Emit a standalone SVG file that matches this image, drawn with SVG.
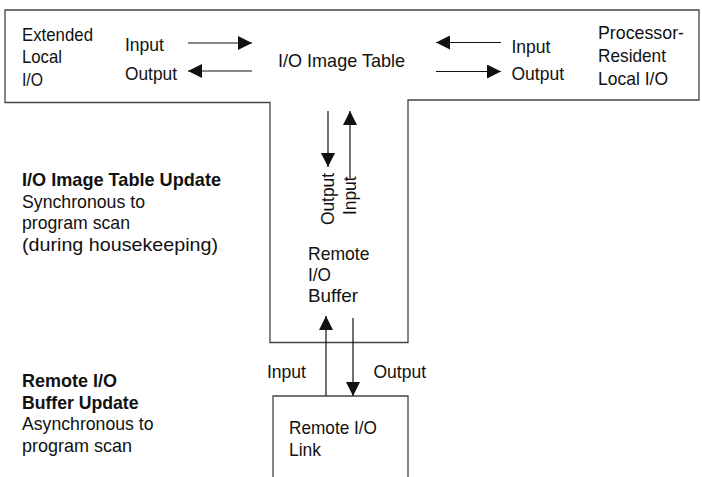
<svg xmlns="http://www.w3.org/2000/svg" width="702" height="477" viewBox="0 0 702 477">
<defs>
<style>
text{font-family:"Liberation Sans",Arial,sans-serif;font-size:19px;fill:#111}
.b{font-weight:bold}
.frame{fill:none;stroke:#444;stroke-width:1.3}
.conn{stroke:#111;stroke-width:1.2;fill:none}
</style>
<marker id="ah" viewBox="0 0 14 14" refX="14" refY="7" markerWidth="14" markerHeight="14" markerUnits="userSpaceOnUse" orient="auto">
<path d="M0,0 L14,7 L0,14 Z" fill="#111"/>
</marker>
</defs>
<g id="io-image-table">
<path class="frame" d="M5,10 H699 V100 H408 V342.5 H270 V102.5 H5 Z"/>
<text x="278" y="66.5" textLength="127" lengthAdjust="spacingAndGlyphs">I/O Image Table</text>
</g>
<g id="extended-local-io">
<text x="22" y="40.5" textLength="71" lengthAdjust="spacingAndGlyphs">Extended</text>
<text x="22" y="63" textLength="40" lengthAdjust="spacingAndGlyphs">Local</text>
<text x="22" y="85.5" textLength="21" lengthAdjust="spacingAndGlyphs">I/O</text>
</g>
<g id="processor-resident-local-io">
<text x="598" y="39" textLength="86" lengthAdjust="spacingAndGlyphs">Processor-</text>
<text x="598" y="62" textLength="68" lengthAdjust="spacingAndGlyphs">Resident</text>
<text x="598" y="85" textLength="70" lengthAdjust="spacingAndGlyphs">Local I/O</text>
</g>
<g id="remote-io-buffer">
<text x="308" y="259.5" textLength="61.5" lengthAdjust="spacingAndGlyphs">Remote</text>
<text x="308" y="281" textLength="23" lengthAdjust="spacingAndGlyphs">I/O</text>
<text x="308" y="302" textLength="50" lengthAdjust="spacingAndGlyphs">Buffer</text>
</g>
<g id="remote-io-link">
<path class="frame" d="M273,477 V396 H408 V477"/>
<text x="289" y="434" textLength="88" lengthAdjust="spacingAndGlyphs">Remote I/O</text>
<text x="289" y="456" textLength="32" lengthAdjust="spacingAndGlyphs">Link</text>
</g>
<g id="notes">
<text class="b" x="22" y="186" textLength="199" lengthAdjust="spacingAndGlyphs">I/O Image Table Update</text>
<text x="22" y="207.5" textLength="123" lengthAdjust="spacingAndGlyphs">Synchronous to</text>
<text x="22" y="229" textLength="108" lengthAdjust="spacingAndGlyphs">program scan</text>
<text x="22" y="250.5" textLength="196" lengthAdjust="spacingAndGlyphs">(during housekeeping)</text>
<text class="b" x="22" y="387" textLength="95" lengthAdjust="spacingAndGlyphs">Remote I/O</text>
<text class="b" x="22" y="408.5" textLength="116.5" lengthAdjust="spacingAndGlyphs">Buffer Update</text>
<text x="22" y="430" textLength="131.5" lengthAdjust="spacingAndGlyphs">Asynchronous to</text>
<text x="22" y="451.5" textLength="110" lengthAdjust="spacingAndGlyphs">program scan</text>
</g>
<g id="connectors">
<line class="conn" x1="188" y1="43" x2="252" y2="43" marker-end="url(#ah)"/>
<line class="conn" x1="252" y1="71" x2="188" y2="71" marker-end="url(#ah)"/>
<text x="125" y="50.5" textLength="39" lengthAdjust="spacingAndGlyphs">Input</text>
<text x="125" y="80" textLength="52" lengthAdjust="spacingAndGlyphs">Output</text>
<line class="conn" x1="501" y1="42.5" x2="436" y2="42.5" marker-end="url(#ah)"/>
<line class="conn" x1="436" y1="71.5" x2="501" y2="71.5" marker-end="url(#ah)"/>
<text x="511.5" y="52.5" textLength="39" lengthAdjust="spacingAndGlyphs">Input</text>
<text x="511.5" y="80" textLength="52.5" lengthAdjust="spacingAndGlyphs">Output</text>
<line class="conn" x1="328" y1="111" x2="328" y2="167" marker-end="url(#ah)"/>
<line class="conn" x1="350" y1="178" x2="350" y2="111" marker-end="url(#ah)"/>
<text transform="translate(334,225) rotate(-90)" textLength="52" lengthAdjust="spacingAndGlyphs">Output</text>
<text transform="translate(356,215) rotate(-90)" textLength="38.5" lengthAdjust="spacingAndGlyphs">Input</text>
<line class="conn" x1="326" y1="396" x2="326" y2="316" marker-end="url(#ah)"/>
<line class="conn" x1="353" y1="318" x2="353" y2="396" marker-end="url(#ah)"/>
<text x="267" y="378" textLength="39" lengthAdjust="spacingAndGlyphs">Input</text>
<text x="373.5" y="378" textLength="52.5" lengthAdjust="spacingAndGlyphs">Output</text>
</g>
</svg>
